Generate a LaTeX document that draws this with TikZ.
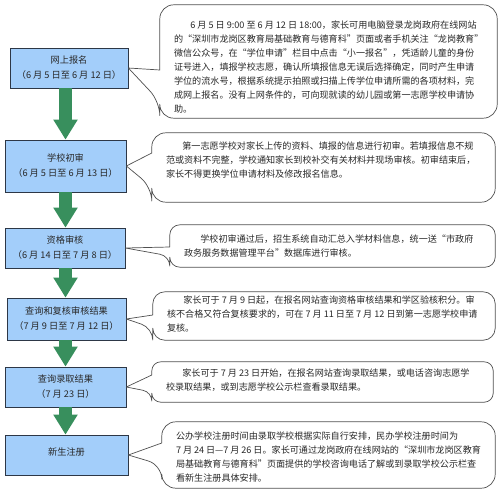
\documentclass[tikz,border=0pt]{standalone}
\usepackage{fontspec}
\setmainfont{Noto Sans CJK SC}
\usetikzlibrary{arrows.meta}
\definecolor{boxblue}{RGB}{163,206,250}
\definecolor{boxedge}{RGB}{45,55,70}
\definecolor{arrgreen}{RGB}{56,143,93}
\definecolor{noteedge}{RGB}{80,80,80}
\definecolor{txt}{RGB}{40,40,40}
% callout outline: #1 note, #2 box, #3/#4 wedge base on the left side, #5 corner radius
\newcommand{\callout}[5]{%
  \draw[noteline] ([yshift=#3]#1.west) [rounded corners=#5] |- (#1.north east) |- (#1.south west)
    -- ([yshift=#4]#1.west) [sharp corners] -- (#2.east) -- cycle;}
% note text: #1 width, #2 vertical shift, #3 lines
\newcommand{\notetext}[3]{\raisebox{#2}[0pt][0pt]{\parbox[c]{#1}{#3}}}
\begin{document}
\begin{tikzpicture}[x=1pt,y=-1pt,
  stagebox/.style={draw=boxedge,line width=0.7pt,fill=boxblue,minimum width=120,align=center,
    text=txt,font=\fontsize{9.2}{15}\selectfont,inner sep=0pt},
  notebox/.style={inner sep=0pt,text=txt,font=\fontsize{9.1}{14}\selectfont},
  noteline/.style={draw=noteedge,line width=0.7pt,line join=round},
  flowarrow/.style={draw=arrgreen,line width=12.5pt,-{Triangle[width=23pt,length=20pt]}}]
  \fill[white] (0,0) rectangle (500,495);
  \useasboundingbox (0,0) rectangle (500,495);
  % stages
  \node[stagebox,minimum width=118,minimum height=40] (b1) at (69,68) {网上报名\\（6 月 5 日至 6 月 12 日）};
  \node[stagebox,minimum width=121,minimum height=52] (b2) at (65.5,166) {学校初审\\（6 月 5 日至 6 月 13 日）};
  \node[stagebox,minimum height=40] (b3) at (65,248) {资格审核\\（6 月 14 日至 7 月 8 日）};
  \node[stagebox,minimum width=119,minimum height=42] (b4) at (66.5,319) {查询和复核审核结果\\（7 月 9 日至 7 月 12 日）};
  \node[stagebox,minimum width=121,minimum height=40] (b5) at (65.5,387) {查询录取结果\\（7 月 23 日）};
  \node[stagebox,minimum width=123,minimum height=40] (b6) at (66.5,455) {\raisebox{6pt}{新生注册}};
  % arrows
  \draw[flowarrow] (b1.south -| b2.north) -- (b2.north);
  \draw[flowarrow] (b2.south) -- (b2.south |- b3.north);
  \draw[flowarrow] (b3.south -| b2.north) -- (b2.north |- b4.north);
  \draw[flowarrow] (b4.south -| b2.north) -- (b2.north |- b5.north);
  \draw[flowarrow] (b5.south -| b2.north) -- (b2.north |- b6.north);
  % notes
  \node[notebox,minimum width=337,minimum height=113] (n1) at (328.5,61.5) {\notetext{309pt}{-7.5pt}{%
    \hspace*{1.8em}6~月~5~日~9:00~至~6~月~12~日~18:00，家长可用电脑登录龙岗政府在线网站\\
    的“深圳市龙岗区教育局基础教育与德育科”页面或者手机关注“龙岗教育”\\
    微信公众号，在“学位申请”栏目中点击“小一报名”，凭适龄儿童的身份\\
    证号进入，填报学校志愿，确认所填报信息无误后选择确定，同时产生申请\\
    学位的流水号，根据系统提示拍照或扫描上传学位申请所需的各项材料，完\\
    成网上报名。没有上网条件的，可向现就读的幼儿园或第一志愿学校申请协\\
    助。}};
  \node[notebox,minimum width=343,minimum height=69] (n2) at (323.5,167.5) {\notetext{315pt}{5.5pt}{%
    \hspace*{1.8em}第一志愿学校对家长上传的资料、填报的信息进行初审。若填报信息不规\\
    范或资料不完整，学校通知家长到校补交有关材料并现场审核。初审结束后，\\
    家长不得更换学位申请材料及修改报名信息。}};
  \node[notebox,minimum width=325,minimum height=42] (n3) at (332.5,246) {\notetext{297pt}{-2.5pt}{%
    \hspace*{1.8em}学校初审通过后，招生系统自动汇总入学材料信息，统一送“市政府\\
    政务服务数据管理平台”数据库进行审核。}};
  \node[notebox,minimum width=342,minimum height=48] (n4) at (324,316) {\notetext{314pt}{-0.5pt}{%
    \hspace*{1.8em}家长可于~7~月~9~日起，在报名网站查询资格审核结果和学区验核积分。审\\
    核不合格又符合复核要求的，可在~7~月~11~日至~7~月~12~日到第一志愿学校申请\\
    复核。}};
  \node[notebox,minimum width=341,minimum height=40] (n5) at (322.5,382) {\notetext{313pt}{-0.5pt}{%
    \hspace*{1.8em}家长可于~7~月~23~日开始，在报名网站查询录取结果，或电话咨询志愿学\\
    校录取结果，或到志愿学校公示栏查看录取结果。}};
  \node[notebox,minimum width=333,minimum height=66] (n6) at (328.5,455) {\notetext{305pt}{-4pt}{%
    公办学校注册时间由录取学校根据实际自行安排，民办学校注册时间为\\
    7~月~24~日—7~月~26~日。家长可通过龙岗政府在线网站的“深圳市龙岗区教育\\
    局基础教育与德育科”页面提供的学校咨询电话了解或到录取学校公示栏查\\
    看新生注册具体安排。}};
  \callout{n1}{b1}{-8.5pt}{-40pt}{14pt}
  \callout{n2}{b2}{14.5pt}{-19.5pt}{14pt}
  \callout{n3}{b3}{-1pt}{-10pt}{10pt}
  \callout{n4}{b4}{1pt}{-12pt}{12pt}
  \callout{n5}{b5}{7pt}{-10pt}{9pt}
  \callout{n6}{b6}{12pt}{-10pt}{14pt}
\end{tikzpicture}
\end{document}
